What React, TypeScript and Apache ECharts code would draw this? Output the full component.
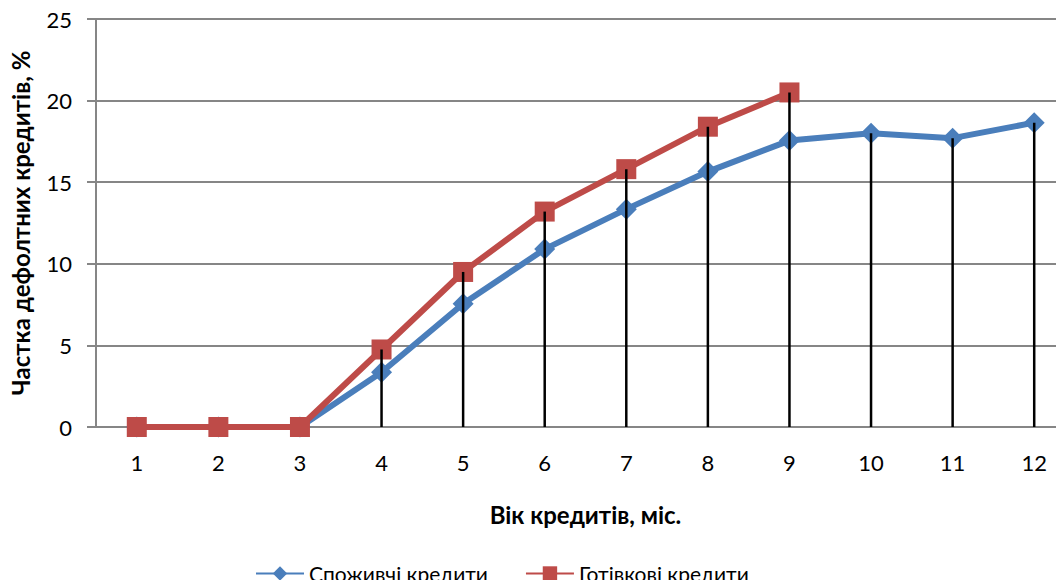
import React, { useEffect, useRef } from "react";
import * as echarts from "echarts";

const categories = ["1", "2", "3", "4", "5", "6", "7", "8", "9", "10", "11", "12"];
const consumerLoans = [0, 0, 0, 3.35, 7.55, 10.9, 13.35, 15.65, 17.55, 18.0, 17.7, 18.65];
const cashLoans: (number | null)[] = [0, 0, 0, 4.75, 9.5, 13.2, 15.8, 18.4, 20.5, null, null, null];
const yTicks = { min: 0, max: 25, interval: 5 };
const seriesNames = ["Споживчі кредити", "Готівкові кредити"];

export default function App() {
  const ref = useRef<HTMLDivElement>(null);
  useEffect(() => {
    if (!ref.current) return;
    const chart = echarts.init(ref.current, null, { renderer: "svg" });
    const dropLines = categories.map((_, i) => {
      const vals = [consumerLoans[i], cashLoans[i]].filter((v) => v != null) as number[];
      return Math.max(...vals);
    });
    const font = "Lato, 'Liberation Sans', sans-serif";
    chart.setOption({
      animation: false,
      backgroundColor: "#ffffff",
      textStyle: { fontFamily: font },
      grid: { left: 96, top: 19, width: 979, height: 408, containLabel: false },
      legend: {
        data: seriesNames,
        left: 250,
        top: 558,
        padding: 5,
        itemWidth: 48,
        itemHeight: 18,
        itemGap: 37,
        textStyle: { fontSize: 21, color: "#000", fontFamily: font },
      },
      xAxis: {
        type: "category",
        data: categories,
        boundaryGap: true,
        name: "Вік кредитів, міс.",
        nameLocation: "middle",
        nameGap: 75,
        nameTextStyle: { fontSize: 24, fontWeight: "bold", color: "#000", fontFamily: font },
        axisLine: { lineStyle: { color: "#868686", width: 2 } },
        axisTick: { show: false },
        axisLabel: { fontSize: 22, color: "#000", margin: 24, fontFamily: font },
        splitLine: { show: false },
      },
      yAxis: {
        type: "value",
        min: yTicks.min,
        max: yTicks.max,
        interval: yTicks.interval,
        name: "Частка дефолтних кредитів, %",
        nameLocation: "middle",
        nameGap: 64,
        nameTextStyle: { fontSize: 24, fontWeight: "bold", color: "#000", fontFamily: font },
        axisLine: { show: true, lineStyle: { color: "#868686", width: 2 } },
        axisTick: { show: true, length: 9, lineStyle: { color: "#868686", width: 2 } },
        axisLabel: { fontSize: 22, color: "#000", margin: 24, fontFamily: font },
        splitLine: { show: true, lineStyle: { color: "#868686", width: 2 } },
      },
      series: [
        {
          name: seriesNames[0],
          type: "line",
          data: consumerLoans,
          symbol: "diamond",
          symbolSize: 21,
          lineStyle: { color: "#4A7EBB", width: 6 },
          itemStyle: { color: "#4A7EBB" },
          z: 2,
        },
        {
          name: seriesNames[1],
          type: "line",
          data: cashLoans,
          symbol: "rect",
          symbolSize: 20,
          lineStyle: { color: "#BE4B48", width: 6 },
          itemStyle: { color: "#BE4B48" },
          z: 3,
        },
        {
          name: "drop",
          type: "bar",
          data: dropLines,
          barWidth: 2.5,
          itemStyle: { color: "#000" },
          z: 4,
          silent: true,
        },
      ],
    });
    return () => chart.dispose();
  }, []);
  return (
    <div style={{ width: 1064, height: 588, margin: -8, overflow: "hidden" }}>
      <div ref={ref} style={{ width: 1080, height: 588 }} />
    </div>
  );
}
